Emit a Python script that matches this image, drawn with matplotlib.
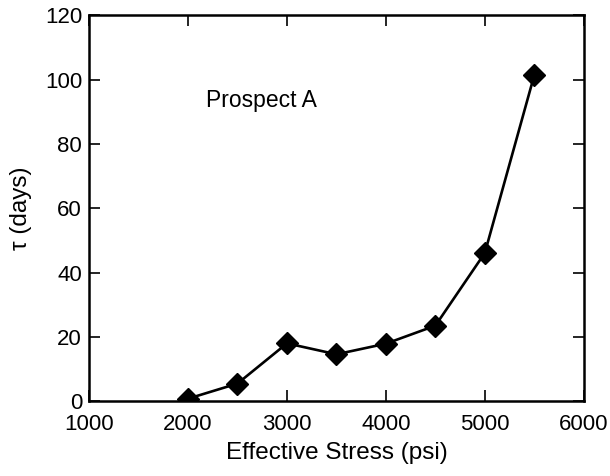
import matplotlib
matplotlib.use("Agg")
import matplotlib.pyplot as plt

# effective stress (psi) vs relaxation time tau (days)
stress = [2000, 2500, 3000, 3500, 4000, 4500, 5000, 5500]
tau_days = [0.8, 5.5, 18.0, 14.6, 17.9, 23.5, 46.1, 101.4]

plt.rcParams["font.family"] = ["Liberation Sans", "DejaVu Sans"]

fig = plt.figure(figsize=(6.1, 4.76), dpi=100)
ax = fig.add_axes([0.146, 0.157, 0.811, 0.811])

ax.plot(stress, tau_days, color="black", linewidth=1.9,
        marker="D", markersize=11, markerfacecolor="black", markeredgecolor="black")

ax.set_xlim(1000, 6000)
ax.set_ylim(0, 120)
ax.set_xticks(range(1000, 6001, 1000))
ax.set_yticks(range(0, 121, 20))
ax.tick_params(direction="in", length=8, width=1.2, top=True, right=True,
               labelsize=16)
ax.tick_params(axis="x", pad=9.5)
ax.tick_params(axis="y", pad=5)
for spine in ax.spines.values():
    spine.set_linewidth(1.8)

ax.set_xlabel("Effective Stress (psi)", fontsize=17.5, labelpad=5)
ax.set_ylabel("\u03c4 (days)", fontsize=17.5, labelpad=9)
ax.text(2180, 93.5, "Prospect A", fontsize=16.5, va="center", ha="left")

fig.savefig("out.png", dpi=100)
